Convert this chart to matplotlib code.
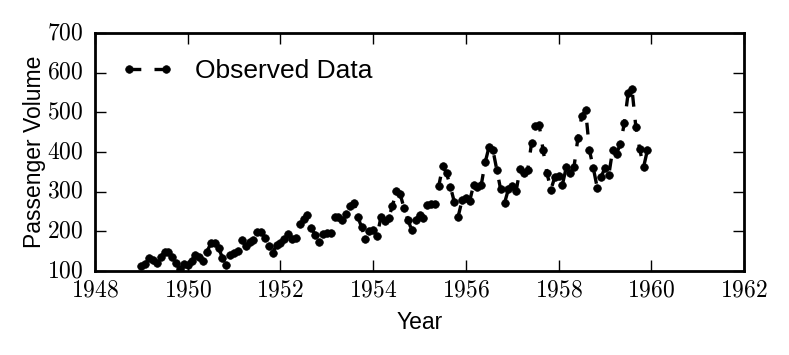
import numpy as np
import matplotlib
matplotlib.use("Agg")
import matplotlib.pyplot as plt
from matplotlib.ticker import FuncFormatter

# monthly passenger counts, 1949-1959
passengers = [
    112, 118, 132, 129, 121, 135, 148, 148, 136, 119, 104, 118,
    115, 126, 141, 135, 125, 149, 170, 170, 158, 133, 114, 140,
    145, 150, 178, 163, 172, 178, 199, 199, 184, 162, 146, 166,
    171, 180, 193, 181, 183, 218, 230, 242, 209, 191, 172, 194,
    196, 196, 236, 235, 229, 243, 264, 272, 237, 211, 180, 201,
    204, 188, 235, 227, 234, 264, 302, 293, 259, 229, 203, 229,
    242, 233, 267, 269, 270, 315, 364, 347, 312, 274, 237, 278,
    284, 277, 317, 313, 318, 374, 413, 405, 355, 306, 271, 306,
    315, 301, 356, 348, 355, 422, 465, 467, 404, 347, 305, 336,
    340, 318, 362, 348, 363, 435, 491, 505, 404, 359, 310, 337,
    360, 342, 406, 396, 420, 472, 548, 559, 463, 407, 362, 405,
]
start_year = 1949
years = start_year + np.arange(len(passengers)) / 12.0

plt.style.use("classic")
plt.rcParams["mathtext.fontset"] = "cm"
plt.rcParams["lines.scale_dashes"] = False
plt.rcParams["font.family"] = ["Liberation Sans", "DejaVu Sans"]

fig = plt.figure(figsize=(7.89, 3.55), dpi=100, facecolor="white")
ax = fig.add_axes([0.1204, 0.2366, 0.8226, 0.6704])

ax.plot(years, passengers, "k--", marker="o", markersize=5.5, linewidth=2.4,
        markeredgecolor="k", dashes=(8.5, 9.5), label="Observed Data")

ax.set_xlim(1948, 1962)
ax.set_ylim(100, 700)
ax.set_xticks(np.arange(1948, 1963, 2))
ax.set_yticks(np.arange(100, 701, 100))
fmt = FuncFormatter(lambda v, p: r"$%d$" % v)
ax.xaxis.set_major_formatter(fmt)
ax.yaxis.set_major_formatter(fmt)
ax.tick_params(labelsize=17, width=1, length=8, direction="in")
ax.tick_params(axis="x", pad=6)
ax.tick_params(axis="y", pad=8)
ax.minorticks_off()
for s in ax.spines.values():
    s.set_linewidth(2)

ax.set_xlabel("Year", fontsize=16.5, labelpad=7)
ax.set_ylabel("Passenger Volume", fontsize=16.5, labelpad=1)
ax.legend(loc="upper left", frameon=False, numpoints=2, fontsize=19,
          handlelength=2.0, handletextpad=0.8, borderaxespad=0.6)

fig.savefig("out.png", dpi=100, facecolor="white")
